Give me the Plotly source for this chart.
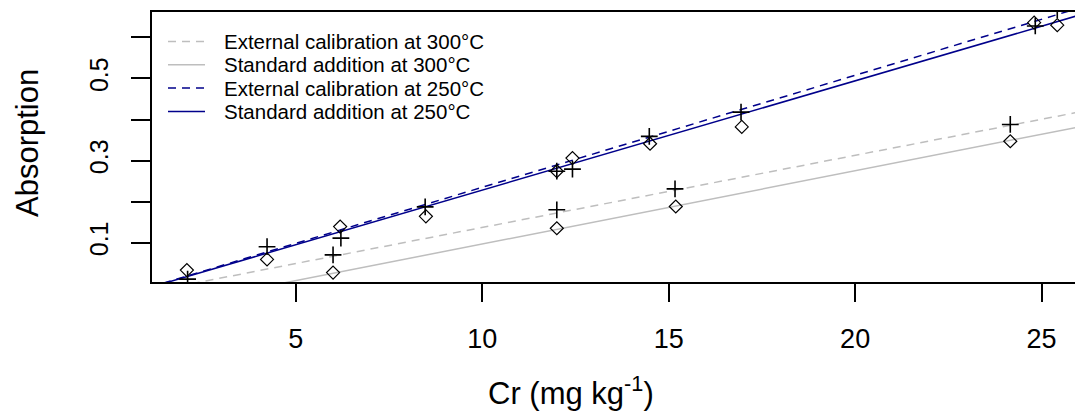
import numpy as np
import plotly.graph_objects as go

# ---- data ----
ext250_x = [2.1, 4.23, 6.21, 8.47, 12.0, 12.42, 14.48, 16.94, 24.83, 25.42]
ext250_y = [0.011, 0.090, 0.111, 0.187, 0.274, 0.279, 0.359, 0.418, 0.628, 0.668]
std250_x = [2.08, 4.23, 6.19, 8.49, 12.0, 12.42, 14.5, 16.96, 24.8, 25.42]
std250_y = [0.033, 0.059, 0.139, 0.164, 0.274, 0.306, 0.341, 0.382, 0.636, 0.630]
ext300_x = [6.0, 12.0, 15.17, 24.16]
ext300_y = [0.070, 0.180, 0.231, 0.388]
std300_x = [6.0, 12.0, 15.19, 24.16]
std300_y = [0.027, 0.135, 0.188, 0.347]

line_names = ["External calibration at 300°C", "Standard addition at 300°C",
              "External calibration at 250°C", "Standard addition at 250°C"]
line_intercepts = [-0.0389, -0.0818, -0.0383, -0.0383]
line_slopes = [0.01758, 0.01784, 0.0273, 0.02663]
line_colors = ["#BEBEBE", "#BEBEBE", "#00008B", "#00008B"]
line_dashes = ["8px,6px", "solid", "8px,6px", "solid"]

x_ticks = [5, 10, 15, 20, 25]
y_label_ticks = [0.1, 0.3, 0.5]
y_unlabelled_ticks = [0.2, 0.4, 0.6]

FONT = "Liberation Sans, Arial, sans-serif"
OFF = 8  # page body margin
W, H = 1083, 414
# plot area on the page: x 152..1083, y 12..282
ML, MR, MT = 152 - OFF, OFF, 12 - OFF
MB = H - (282 - OFF)
PW, PH = W - ML - MR, H - MT - MB


def px_to_paper_x(px):
    return (px - OFF - ML) / PW


def px_to_paper_y(py):
    return (H - MB - (py - OFF)) / PH


fig = go.Figure()

xl = np.array([0.0, 30.0])
for name, a, b, c, d in zip(line_names, line_intercepts, line_slopes, line_colors, line_dashes):
    fig.add_trace(go.Scatter(x=xl, y=a + b * xl, mode="lines", name=name, showlegend=False,
                             line=dict(color=c, width=1.5, dash=d)))

plus_style = dict(symbol="cross-thin-open", size=12, color="black", line=dict(width=1.6, color="black"))
dia_style = dict(symbol="diamond-open", size=10, color="black", line=dict(width=1.2, color="black"))
for xs, ys, st in [(ext250_x, ext250_y, plus_style), (std250_x, std250_y, dia_style),
                   (ext300_x, ext300_y, plus_style), (std300_x, std300_y, dia_style)]:
    fig.add_trace(go.Scatter(x=xs, y=ys, mode="markers", marker=st, showlegend=False))

# legend (drawn inside the plot, R style with no box)
for i, (name, c, d) in enumerate(zip(line_names, line_colors, line_dashes)):
    yy = px_to_paper_y(41.5 + 23.3 * i)
    fig.add_shape(type="line", xref="paper", yref="paper",
                  x0=px_to_paper_x(168), x1=px_to_paper_x(205), y0=yy, y1=yy,
                  line=dict(color=c, width=1.5, dash=d))
    fig.add_annotation(text=name, xref="paper", yref="paper", x=px_to_paper_x(222), y=yy,
                       xanchor="left", yanchor="middle", showarrow=False,
                       font=dict(size=20.5, family=FONT))

fig.update_layout(
    width=W, height=H,
    margin=dict(l=ML, r=MR, t=MT, b=MB),
    plot_bgcolor="white", paper_bgcolor="white",
    font=dict(family=FONT, color="black"),
    showlegend=False,
    xaxis=dict(range=[1.145, 26.11], tickvals=x_ticks, ticks="outside", ticklen=18,
               tickwidth=1.5, tickcolor="black", showline=True, linecolor="black",
               linewidth=1.5, mirror=True, showgrid=False, zeroline=False, automargin=False,
               tickfont=dict(size=27, family=FONT), ticklabelstandoff=14),
    yaxis=dict(range=[0.004, 0.662], tickvals=y_label_ticks, tickformat=".1f",
               ticks="outside", ticklen=19, tickwidth=1.5, tickcolor="black",
               minor=dict(tickvals=y_unlabelled_ticks, ticks="outside", ticklen=19,
                          tickwidth=1.5, tickcolor="black", showgrid=False),
               showline=True, linecolor="black", linewidth=1.5, showgrid=False,
               zeroline=False, tickangle=-90, tickfont=dict(size=25, family=FONT),
               ticklabelstandoff=13, automargin=False),
)

fig.add_annotation(text="Cr (mg kg<sup>-1</sup>)", xref="x", x=12.37, yref="paper",
                   y=px_to_paper_y(391), xanchor="center", yanchor="middle", showarrow=False,
                   font=dict(size=31, family=FONT))
fig.add_annotation(text="Absorption", xref="paper", x=px_to_paper_x(27), yref="paper",
                   y=px_to_paper_y(143), xanchor="center", yanchor="middle", textangle=-90,
                   showarrow=False, font=dict(size=31, family=FONT))

fig.write_html("out.html")
